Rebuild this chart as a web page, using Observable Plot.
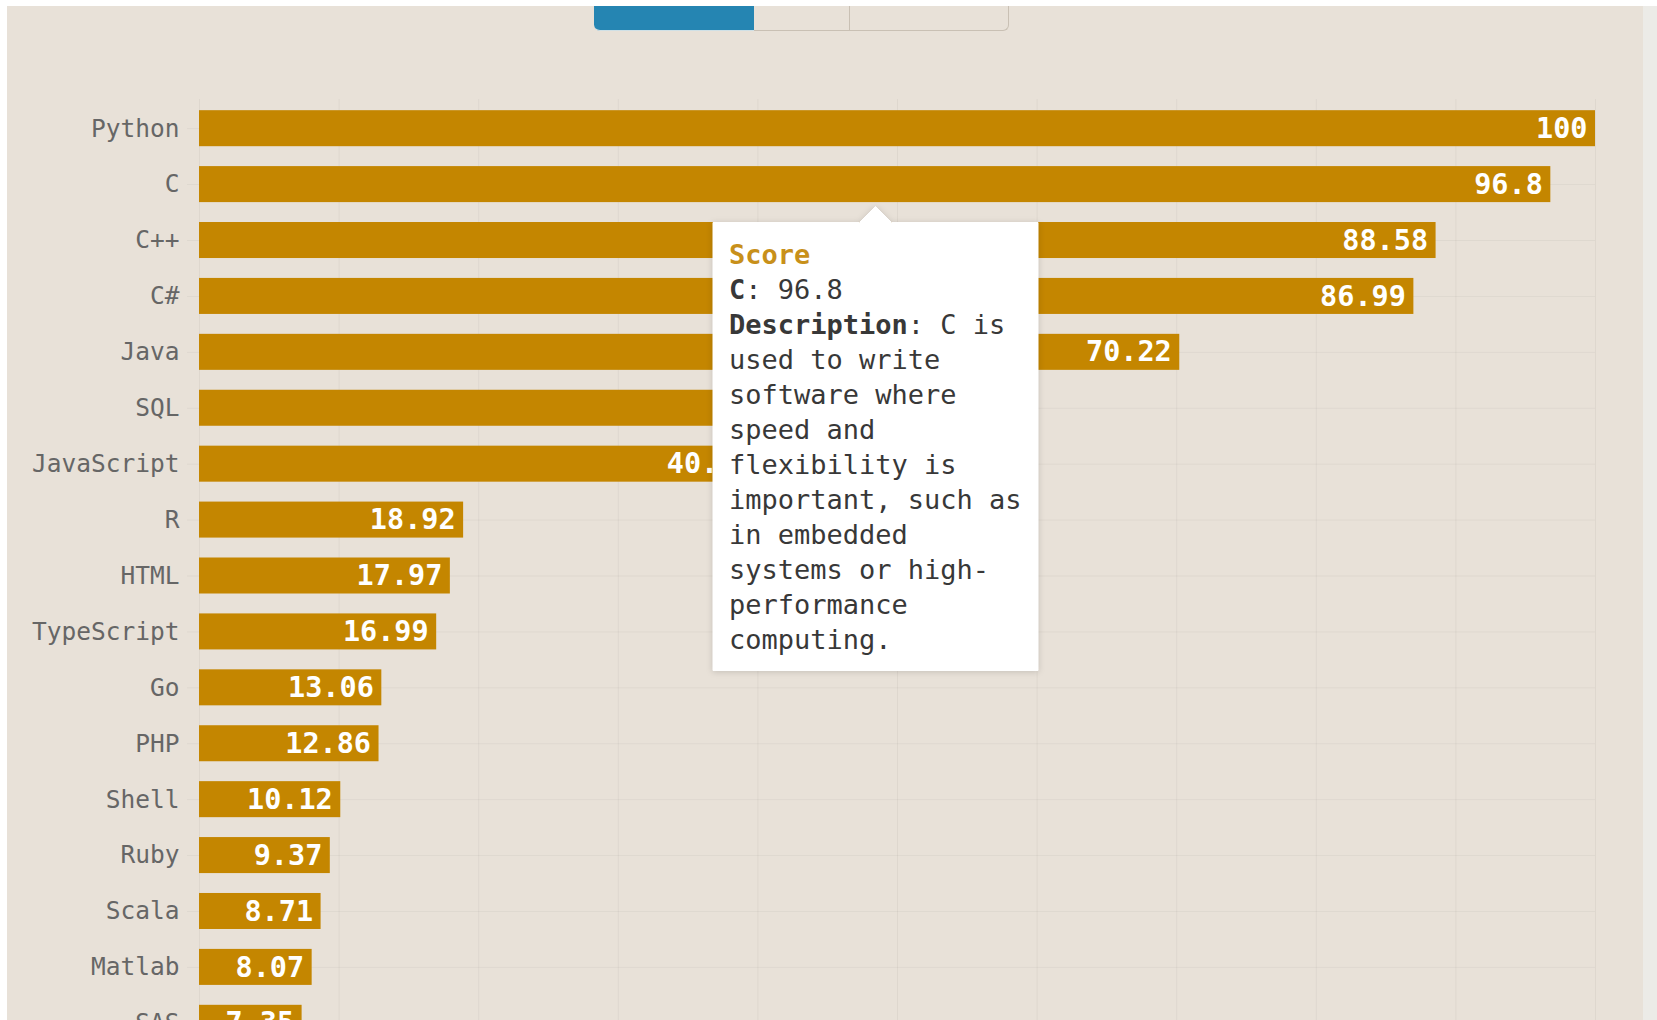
<!DOCTYPE html>
<html>
<head>
<meta charset="utf-8">
<script src="https://cdn.jsdelivr.net/npm/d3@7"></script>
<script src="https://cdn.jsdelivr.net/npm/@observablehq/plot@0.6"></script>
<style>
  html, body { margin: 0; padding: 0; width: 1657px; height: 1020px; overflow: hidden; background: #ffffff; }
  .card { position: absolute; left: 7px; top: 6px; width: 1636px; height: 1100px; background: #e8e1d8; }
  .edge { position: absolute; left: 1643px; top: 6px; width: 14px; height: 1100px; background: #ecebe7; }
  .tabs { position: absolute; left: 594px; top: 0; height: 31px; display: flex; }
  .tab { height: 30px; border-bottom: 1px solid #c9c0b4; box-sizing: content-box; }
  .tab.active { width: 160px; background: #2585b2; border-bottom-color: #cfe0e6; border-bottom-left-radius: 6px; }
  .tab.t2 { width: 95px; border-right: 1px solid #c9c0b4; }
  .tab.t3 { width: 158px; border-right: 1px solid #c9c0b4; border-bottom-right-radius: 6px; }
  .topstrip { position: absolute; left: 0; top: 0; width: 1657px; height: 6px; background: #ffffff; z-index: 5; }
  #chart { position: absolute; left: 0; top: 0; }
</style>
</head>
<body>
<div class="card"></div>
<div class="edge"></div>
<div class="tabs"><div class="tab active"></div><div class="tab t2"></div><div class="tab t3"></div></div>
<div class="topstrip"></div>
<div id="chart"></div>
<script>
const langs = ["Python", "C", "C++", "C#", "Java", "SQL", "JavaScript", "R", "HTML", "TypeScript", "Go", "PHP", "Shell", "Ruby", "Scala", "Matlab", "SAS"];
const scores = [100, 96.8, 88.58, 86.99, 70.22, 53.16, 40.19, 18.92, 17.97, 16.99, 13.06, 12.86, 10.12, 9.37, 8.71, 8.07, 7.35];
const tipLang = "C";
const tipHeader = "Score";
const tipDescription = "C is used to write software where speed and flexibility is important, such as in embedded systems or high-performance computing.";

const data = langs.map((lang, i) => ({lang, score: scores[i]}));
const tipData = data.filter(d => d.lang === tipLang).map(d => ({...d, description: tipDescription}));

const barColor = "#c48600";
const mono = "DejaVu Sans Mono";

const chart = Plot.plot({
  width: 1657,
  height: 1100,
  marginLeft: 199,
  marginRight: 62,
  marginTop: 99,
  marginBottom: 48,
  style: {background: "transparent", fontFamily: mono, fontSize: "24.5px", color: "#666"},
  x: {domain: [0, 100], axis: null},
  y: {domain: langs, paddingInner: 0.356, paddingOuter: 0.2, round: false, label: null},
  marks: [
    Plot.gridX({ticks: 10, stroke: "#000", strokeOpacity: 0.045}),
    Plot.gridY({stroke: "#000", strokeOpacity: 0.04}),
    Plot.axisY({tickSize: 12, tickPadding: 8, stroke: "#000", strokeOpacity: 0.04, fill: "#666", fontSize: 24.5, label: null}),
    Plot.barX(data, {x: "score", y: "lang", fill: barColor}),
    Plot.text(data, {x: "score", y: "lang", text: d => String(d.score), textAnchor: "end", dx: -8, fill: "white", fontWeight: "bold", fontSize: 28.5, fontFamily: mono}),
    Plot.tip(tipData, {
      x: d => d.score / 2,
      y: "lang",
      dy: 22,
      anchor: "top",
      title: d => `${tipHeader}\n${d.lang}: ${d.score}\nDescription: ${d.description}`,
      fill: "white",
      stroke: "white",
      pathFilter: "drop-shadow(0 1px 3px rgba(0,0,0,0.15))",
      fontFamily: mono,
      fontSize: 27,
      lineHeight: 1.296,
      lineWidth: 11.6,
      monospace: true,
      textPadding: 16,
      pointerSize: 32
    })
  ]
});

document.getElementById("chart").append(chart);

// style the tooltip text like the reference
const tipText = chart.querySelector('g[aria-label="tip"] text');
if (tipText) {
  tipText.setAttribute("fill", "#383838");
  tipText.setAttribute("stroke", "none");
  for (const tspan of tipText.querySelectorAll(":scope > tspan")) {
    const raw = tspan.textContent.replace(/\u200b/g, "");
    const boldPrefix = (prefix) => {
      const rest = raw.slice(prefix.length);
      while (tspan.firstChild) tspan.removeChild(tspan.firstChild);
      tspan.append("\u200b");
      const b = document.createElementNS("http://www.w3.org/2000/svg", "tspan");
      b.setAttribute("font-weight", "bold");
      b.textContent = prefix;
      tspan.append(b);
      tspan.append(document.createTextNode(rest));
    };
    if (raw === tipHeader) {
      tspan.setAttribute("fill", "#c8901a");
      tspan.setAttribute("font-weight", "bold");
    } else if (raw.startsWith(tipLang + ":")) {
      boldPrefix(tipLang);
    } else if (raw.startsWith("Description:")) {
      boldPrefix("Description");
    }
  }
}
</script>
</body>
</html>
